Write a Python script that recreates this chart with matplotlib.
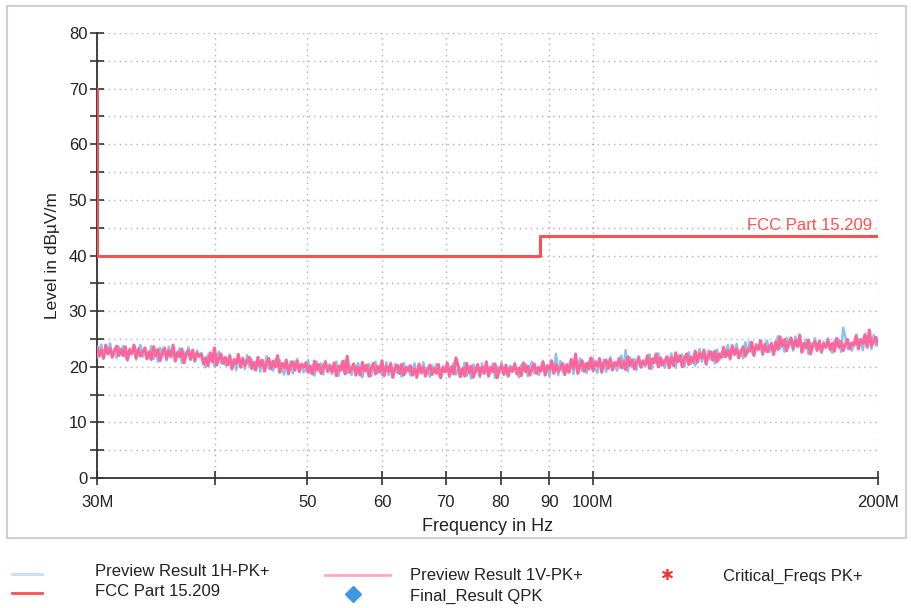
import numpy as np
import matplotlib
matplotlib.use("Agg")
import matplotlib.pyplot as plt
from matplotlib.patches import Rectangle

plt.rcParams['font.family'] = ['Liberation Sans', 'DejaVu Sans']

# sweep from 30 MHz to 200 MHz, 360 log-spaced points
N_PTS = 360
F_START, F_STOP = 30e6, 200e6

# Preview Result 1H-PK+ (dBuV/m)
level_1h = [
    21.8, 22.9, 24.0, 21.4, 23.4, 22.4, 24.2, 21.9, 23.1, 21.6, 23.6, 22.5,
    23.7, 21.9, 21.1, 23.3, 22.4, 23.5, 21.3, 23.0, 23.9, 21.8, 22.8, 21.5,
    22.0, 23.7, 21.4, 22.7, 20.9, 23.4, 21.8, 23.1, 21.1, 23.6, 21.7, 22.9,
    21.1, 22.2, 23.3, 20.7, 22.7, 21.7, 23.5, 21.2, 22.4, 20.9, 22.9, 21.8,
    22.5, 20.7, 19.9, 22.1, 21.2, 22.3, 20.1, 21.8, 22.7, 20.6, 21.6, 20.3,
    20.5, 22.2, 19.9, 21.2, 19.4, 21.9, 20.3, 21.6, 19.6, 22.1, 20.2, 21.4,
    19.5, 20.6, 21.7, 19.1, 21.1, 20.1, 21.9, 19.6, 20.8, 19.3, 21.3, 20.2,
    21.2, 19.4, 18.6, 20.8, 19.9, 21.0, 18.8, 20.5, 21.4, 19.3, 20.3, 19.0,
    19.5, 21.2, 18.9, 20.2, 18.4, 20.9, 19.3, 20.6, 18.6, 21.1, 19.2, 20.4,
    18.7, 19.8, 20.9, 18.3, 20.3, 19.3, 21.1, 18.8, 20.0, 18.5, 20.5, 19.4,
    20.7, 18.9, 18.1, 20.3, 19.4, 20.5, 18.3, 20.0, 20.9, 18.8, 19.8, 18.5,
    19.1, 20.8, 18.5, 19.8, 18.0, 20.5, 18.9, 20.2, 18.2, 20.7, 18.8, 20.0,
    18.4, 19.5, 20.6, 18.0, 20.0, 19.0, 20.8, 18.5, 19.7, 18.2, 20.2, 19.1,
    20.5, 18.7, 17.9, 20.1, 19.2, 20.3, 18.1, 19.8, 20.7, 18.6, 19.6, 18.3,
    19.0, 20.7, 18.4, 19.7, 17.9, 20.4, 18.8, 20.1, 18.1, 20.6, 18.7, 19.9,
    18.4, 19.5, 20.6, 18.0, 20.0, 19.0, 20.8, 18.5, 19.7, 18.2, 20.2, 19.1,
    20.7, 18.9, 18.1, 20.3, 19.4, 20.5, 18.3, 20.0, 20.9, 18.8, 19.8, 18.5,
    19.4, 21.1, 18.8, 20.1, 18.3, 20.8, 19.2, 22.3, 18.5, 21.0, 19.1, 20.3,
    19.1, 20.2, 21.3, 18.7, 20.7, 19.7, 21.5, 19.2, 20.4, 18.9, 20.9, 19.8,
    21.5, 19.7, 18.9, 21.1, 20.2, 21.3, 19.1, 20.8, 21.7, 19.6, 20.6, 19.3,
    20.3, 22.0, 19.7, 23.0, 19.2, 21.7, 20.1, 21.4, 19.4, 21.9, 20.0, 21.2,
    20.0, 21.1, 22.2, 19.6, 21.6, 20.6, 22.4, 20.1, 21.3, 19.8, 21.8, 20.7,
    22.4, 20.6, 19.8, 22.0, 21.1, 22.2, 20.0, 21.7, 22.6, 20.5, 21.5, 20.2,
    21.5, 23.2, 20.9, 22.2, 20.4, 22.9, 21.3, 22.6, 20.6, 23.1, 21.2, 22.4,
    21.7, 22.8, 23.9, 21.3, 23.3, 22.3, 24.1, 21.8, 23.0, 21.5, 24.4, 22.4,
    24.5, 22.7, 21.9, 24.1, 23.2, 24.3, 22.1, 23.8, 24.7, 22.6, 23.6, 22.3,
    23.8, 25.5, 23.2, 24.5, 22.7, 25.2, 23.6, 24.9, 22.9, 25.4, 23.5, 24.7,
    22.7, 23.8, 24.9, 22.3, 24.3, 23.3, 25.1, 22.8, 24.0, 22.5, 24.5, 23.4,
    25.1, 23.3, 22.5, 24.7, 23.8, 24.9, 22.7, 27.0, 25.3, 23.2, 24.2, 22.9,
    24.1, 25.8, 23.5, 24.8, 23.0, 25.5, 23.9, 25.2, 23.2, 25.7, 23.8, 25.0,
]

# Preview Result 1V-PK+ (dBuV/m)
level_1v = [
    23.6, 21.9, 23.0, 21.6, 23.9, 22.3, 23.3, 21.7, 22.9, 23.7, 22.0, 23.1,
    22.0, 23.6, 21.3, 23.0, 22.3, 23.9, 21.6, 23.2, 21.9, 22.6, 23.4, 21.4,
    22.7, 21.3, 23.6, 22.0, 23.1, 21.1, 22.5, 23.4, 21.5, 22.9, 21.9, 23.9,
    21.0, 22.6, 21.8, 23.2, 20.7, 22.3, 22.9, 21.4, 23.0, 21.1, 22.5, 21.9,
    22.2, 20.5, 21.6, 20.2, 22.5, 20.9, 23.4, 20.3, 21.5, 22.3, 20.6, 21.7,
    20.3, 21.9, 19.6, 21.3, 20.6, 22.2, 19.9, 21.5, 20.2, 20.9, 21.7, 19.7,
    20.8, 19.4, 21.7, 20.1, 21.2, 19.2, 20.6, 21.5, 19.6, 21.0, 20.0, 22.0,
    19.0, 20.6, 19.8, 21.2, 18.7, 20.3, 20.9, 19.4, 21.0, 19.1, 20.5, 19.9,
    20.7, 19.0, 20.1, 18.7, 21.0, 19.4, 20.4, 18.8, 20.0, 20.8, 19.1, 20.2,
    19.1, 20.7, 18.4, 20.1, 19.4, 21.0, 18.7, 21.9, 19.0, 19.7, 20.5, 18.5,
    19.9, 18.5, 20.8, 19.2, 20.3, 18.3, 19.7, 20.6, 18.7, 20.1, 19.1, 21.1,
    18.4, 20.0, 19.2, 20.6, 18.1, 19.7, 20.3, 18.8, 20.4, 18.5, 19.9, 19.3,
    20.2, 18.5, 19.6, 18.2, 20.5, 18.9, 19.9, 18.3, 19.5, 20.3, 18.6, 19.7,
    18.8, 20.4, 18.1, 19.8, 19.1, 20.7, 18.4, 20.0, 18.7, 21.6, 20.2, 18.2,
    19.7, 18.3, 20.6, 19.0, 20.1, 18.1, 19.5, 20.4, 18.5, 19.9, 18.9, 20.9,
    18.3, 19.9, 19.1, 20.5, 18.0, 19.6, 20.2, 18.7, 20.3, 18.4, 19.8, 19.2,
    20.4, 18.7, 19.8, 18.4, 20.7, 19.1, 20.1, 18.5, 19.7, 20.5, 18.8, 19.9,
    19.2, 20.8, 18.5, 20.2, 19.5, 21.1, 18.8, 20.4, 19.1, 19.8, 20.6, 18.6,
    20.4, 19.0, 21.3, 19.7, 22.3, 18.8, 20.2, 21.1, 19.2, 20.6, 19.6, 21.6,
    19.3, 20.9, 20.1, 21.5, 19.0, 20.6, 21.2, 19.7, 21.3, 19.4, 20.8, 20.2,
    21.5, 19.8, 20.9, 19.5, 21.8, 20.2, 21.2, 19.6, 20.8, 21.6, 19.9, 21.0,
    20.4, 22.0, 19.7, 21.4, 20.7, 22.3, 20.0, 21.6, 20.3, 21.0, 21.8, 19.8,
    21.6, 20.2, 22.5, 20.9, 22.0, 20.0, 21.4, 22.3, 20.4, 21.8, 20.8, 22.8,
    20.8, 22.4, 21.6, 23.0, 20.5, 22.1, 22.7, 21.2, 22.8, 20.9, 22.3, 21.7,
    23.5, 21.8, 22.9, 21.5, 23.8, 22.2, 23.2, 21.6, 22.8, 23.6, 21.9, 23.0,
    22.8, 24.4, 22.1, 23.8, 23.1, 24.7, 22.4, 24.0, 22.7, 23.4, 24.2, 22.2,
    24.5, 23.1, 25.4, 23.8, 24.9, 22.9, 24.3, 25.2, 23.3, 24.7, 23.7, 25.7,
    22.6, 24.2, 23.4, 24.8, 22.3, 23.9, 24.5, 23.0, 24.6, 22.7, 24.1, 23.5,
    24.8, 23.1, 24.2, 22.8, 25.1, 23.5, 24.5, 22.9, 24.1, 24.9, 23.2, 24.3,
    23.9, 25.5, 23.2, 24.9, 24.2, 25.8, 23.5, 26.6, 23.8, 24.5, 25.3, 24.0,
]

# FCC Part 15.209 limit line (step)
limit_freq = [30e6, 30e6, 88e6, 88e6, 200e6]
limit_level = [70, 40, 40, 43.5, 43.5]

x_ticks = [30e6, 40e6, 50e6, 60e6, 70e6, 80e6, 90e6, 100e6, 200e6]
x_labels = ['30M', '', '50', '60', '70', '80', '90', '100M', '200M']

C_1H = '#86C3F5'
C_1V = '#FF6699'
C_LIMIT = '#FF5050'

freq = np.geomspace(F_START, F_STOP, N_PTS)

fig = plt.figure(figsize=(9.11, 6.08), dpi=100)
W, H = 911, 608
ax = fig.add_axes([97 / W, 1 - 478 / H, (878 - 97) / W, (478 - 33) / H])

ax.plot(freq, level_1h, color=C_1H, lw=1.8, zorder=3)
ax.plot(freq, level_1v, color=C_1V, lw=2.2, zorder=4)
ax.plot(limit_freq, limit_level, color=C_LIMIT, lw=2.2, zorder=5)
ax.text(197e6, 44.0, 'FCC Part 15.209', color=C_LIMIT, fontsize=12,
        ha='right', va='bottom', zorder=6)

ax.set_xscale('log')
ax.set_xlim(F_START, F_STOP)
ax.set_ylim(0, 80)
ax.set_xticks(x_ticks)
ax.set_xticklabels(x_labels)
ax.xaxis.set_minor_locator(matplotlib.ticker.NullLocator())
ax.set_yticks(np.arange(0, 81, 10))
ax.set_yticks(np.arange(5, 80, 10), minor=True)

for s in ['top', 'right']:
    ax.spines[s].set_visible(False)
for s in ['left', 'bottom']:
    ax.spines[s].set_color('#333333')
    ax.spines[s].set_linewidth(1.3)

ax.tick_params(which='both', direction='inout', length=10, width=1.2,
               color='#333333', labelsize=12, labelcolor='#222222')
ax.tick_params(axis='x', pad=7)
ax.tick_params(axis='y', pad=2)

grid_kw = dict(color='#b0b0b0', linestyle=(0, (1, 3)), linewidth=1.0)
ax.grid(True, which='major', **grid_kw)
ax.grid(True, which='minor', axis='y', **grid_kw)
ax.set_axisbelow(True)

ax.set_xlabel('Frequency in Hz', fontsize=13, color='#222222', labelpad=6)
ax.set_ylabel('Level in dBµV/m', fontsize=12.5, color='#222222', labelpad=6)

# light frame around the plot area
fig.add_artist(Rectangle((7 / W, 1 - 538 / H), (906 - 7) / W, (538 - 6) / H,
                         transform=fig.transFigure, fill=False,
                         edgecolor='#d0d0d0', linewidth=1.5))

# legend block under the frame, in pixel coordinates
leg = fig.add_axes([0, 0, 1, 1], zorder=-1)
leg.set_xlim(0, W)
leg.set_ylim(H, 0)
leg.axis('off')
leg.plot([12, 42], [574, 574], color='#C6E0F7', lw=2)
leg.plot([12, 42], [593, 593], color=C_LIMIT, lw=2)
leg.plot([325, 390], [575, 575], color='#FFA8C8', lw=2)
leg.plot([353], [594], marker='D', color='#3F97E0', markersize=8)
leg.plot([667], [574], marker=(6, 2, 0), color='#FF3030', markersize=8, mew=1.2)
txt_kw = dict(fontsize=12, color='#222222', va='center', ha='left')
leg.text(95, 571, 'Preview Result 1H-PK+', **txt_kw)
leg.text(95, 591, 'FCC Part 15.209', **txt_kw)
leg.text(410, 576, 'Preview Result 1V-PK+', **txt_kw)
leg.text(410, 596, 'Final_Result QPK', **txt_kw)
leg.text(723, 576, 'Critical_Freqs PK+', **txt_kw)

fig.savefig('out.png', dpi=100)
